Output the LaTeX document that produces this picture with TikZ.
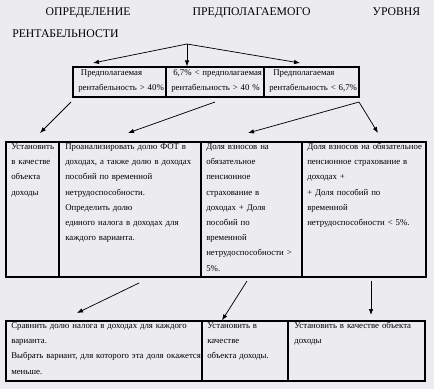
\documentclass[tikz,border=0pt]{standalone}
\usepackage{fontspec}
\setmainfont{Liberation Serif}
\usetikzlibrary{arrows.meta,fit}
\definecolor{bg}{RGB}{236,235,240}
\begin{document}
\begin{tikzpicture}[x=0.75pt,y=-0.75pt,
  cell/.style={draw=black, line width=0.9pt, inner sep=0pt},
  txt/.style={anchor=base west, inner sep=0pt, align=left, text width=#1,
    font=\fontsize{6.6}{11.4}\selectfont},
  ttl/.style={anchor=base west, inner sep=0pt, align=justify,
    font=\fontsize{8.8}{15.8}\selectfont},
  arr/.style={-{Latex[length=4.5pt,width=3.4pt]}, line width=0.55pt}]
\fill[bg] (0,0) rectangle (434,389);
\useasboundingbox (0,0) rectangle (434,389);
% title
\node[ttl, text width=306pt] (title) at (12,16)
  {\hspace*{25pt}ОПРЕДЕЛЕНИЕ\hfill ПРЕДПОЛАГАЕМОГО\hfill УРОВНЯ\\РЕНТАБЕЛЬНОСТИ};
% row 1
\node[cell, fit={(73,67) (166,97)}] (r1a) {};
\node[cell, fit={(166,67) (264,97)}] (r1b) {};
\node[cell, fit={(264,67) (359,97)}] (r1c) {};
\node[txt=68pt] (t1a) at (78,75.5) {\hspace*{2pt}Предполагаемая\\рентабельность > 40\%};
\node[txt=72pt] (t1b) at (171,75.5) {\hspace*{1.5pt}6,7\% < предполагаемая\\рентабельность > 40 \%};
\node[txt=70pt] (t1c) at (269,75.5) {\hspace*{3pt}Предполагаемая\\рентабельность < 6,7\%};
% row 2
\node[cell, fit={(6,142) (59,277)}] (r2a) {};
\node[cell, fit={(59,142) (201,277)}] (r2b) {};
\node[cell, fit={(201,142) (302,277)}] (r2c) {};
\node[cell, fit={(302,142) (426,277)}] (r2d) {};
\node[txt=36pt] (t2a) at (11,149.5) {Установить\\в качестве\\объекта\\доходы};
\node[txt=104pt] (t2b) at (65,149.5) {Проанализировать долю ФОТ в\\доходах, а также долю в доходах\\пособий по временной\\нетрудоспособности.\\Определить долю\\единого налога в доходах для\\каждого варианта.};
\node[txt=73pt] (t2c) at (206,149.5) {Доля взносов на\\обязательное\\пенсионное\\страхование в\\доходах + Доля\\пособий по\\временной\\нетрудоспособности >\\5\%.};
\node[txt=90pt] (t2d) at (307,149.5) {Доля взносов на обязательное\\пенсионное страхование в\\доходах +\\+ Доля пособий по\\временной\\нетрудоспособности < 5\%.};
% row 3
\node[cell, fit={(6,321) (202,381)}] (r3a) {};
\node[cell, fit={(202,321) (288,381)}] (r3b) {};
\node[cell, fit={(288,321) (425,381)}] (r3c) {};
\node[txt=144pt] (t3a) at (11,328.5) {Сравнить долю налога в доходах для каждого\\варианта.\\Выбрать вариант, для которого  эта доля окажется\\меньше.};
\node[txt=60pt] (t3b) at (207,328.5) {Установить в\\качестве\\объекта доходы.};
\node[txt=100pt] (t3c) at (294,328.5) {Установить в качестве объекта\\доходы};
% connectors
\coordinate (o) at (187,44);
\coordinate (e1) at (93,63);
\coordinate (e3) at (300,63);
\draw[arr] (o) -- (e1);
\draw[arr] (o) -- (r1b.north -| o);
\draw[arr] (o) -- (e3);
\coordinate (s1) at (71,102);
\coordinate (f1) at (40,133);
\coordinate (s2) at (215,102);
\coordinate (f2) at (128,133);
\coordinate (s3) at (359,102);
\coordinate (f3) at (248,133);
\coordinate (f4) at (378,133);
\draw[arr] (s1) -- (f1);
\draw[arr] (s2) -- (f2);
\draw[arr] (s3) -- (f3);
\draw[arr] (s3) -- (f4);
\coordinate (u1) at (139,283);
\coordinate (v1) at (77,313);
\coordinate (u2) at (247,281);
\coordinate (u3) at (371,281);
\coordinate (v3) at (371,315);
\draw[arr] (u1) -- (v1);
\draw[arr] (u2) -- (r3b.north -| 222,0);
\draw[arr] (u3) -- (v3);
\end{tikzpicture}
\end{document}
